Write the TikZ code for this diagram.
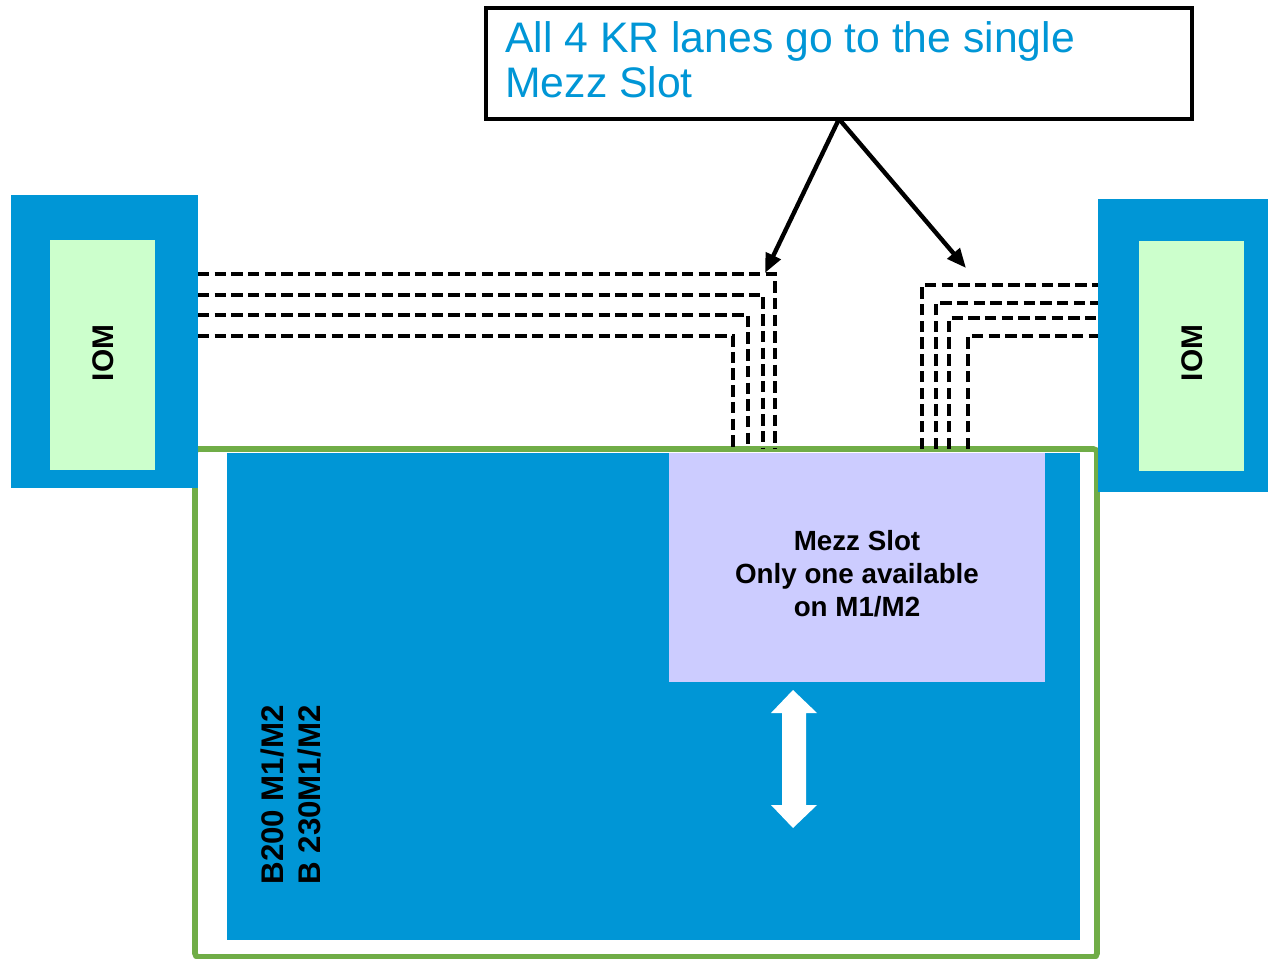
\documentclass[tikz,border=0pt]{standalone}
\usepackage{fontspec}
\setmainfont{Liberation Sans}
\usetikzlibrary{fit,arrows.meta}
\definecolor{dblue}{RGB}{0,150,214}
\definecolor{iomgreen}{RGB}{204,255,204}
\definecolor{mezzfill}{RGB}{204,204,255}
\definecolor{framegreen}{RGB}{112,173,71}
\begin{document}
\begin{tikzpicture}[x=0.02cm,y=-0.02cm,
  area/.style={inner sep=0pt, outer sep=0pt},
  lane/.style={draw=black, line width=2.1pt, dash pattern=on 6.5pt off 3pt},
  callout/.style={draw=black, line width=2.5pt, -{Triangle[length=11pt,width=9pt]}},
  vlabel/.style={font=\bfseries\fontsize{17}{20}\selectfont, rotate=90, inner sep=0pt}
]
\useasboundingbox (0,0) rectangle (1268,959);
% board
\node[area, fit={(195,449) (1097,957)}, draw=framegreen, line width=3.2pt, fill=white, rounded corners=2pt] (board) {};
\node[area, fit={(227,453) (1080,940)}, fill=dblue] (blade) {};
\node[area, fit={(669,453) (1045,682)}, fill=mezzfill] (mezz) {};
\node[font=\bfseries\fontsize{15.8}{18.7}\selectfont, align=center, inner sep=0pt] (mezztext) at (857,574)
  {Mezz Slot\\Only one available\\on M1/M2};
\node[font=\bfseries\fontsize{17.8}{21.5}\selectfont, rotate=90, align=left, inner sep=0pt] (bladetext) at (291,795)
  {B200 M1/M2\\B 230M1/M2};
% double arrow
\fill[white] (793,690) -- (817,713) -- (806,713) -- (806,805) -- (817,805) -- (793,828)
  -- (771,805) -- (782,805) -- (782,713) -- (771,713) -- cycle;
% IOMs
\node[area, fit={(11,195) (198,488)}, fill=dblue] (iomL) {};
\node[area, fit={(50,240) (155,470)}, fill=iomgreen] (iomLin) {};
\node[vlabel] (iomLtext) at (103,353) {IOM};
\node[area, fit={(1098,199) (1268,492)}, fill=dblue] (iomR) {};
\node[area, fit={(1139,241) (1244,471)}, fill=iomgreen] (iomRin) {};
\node[vlabel] (iomRtext) at (1192,353) {IOM};
% lanes left
\draw[lane] (iomL.east |- 0,274) -- (775,274) -- (775,0 |- board.north);
\draw[lane] (iomL.east |- 0,295) -- (763,295) -- (763,0 |- board.north);
\draw[lane] (iomL.east |- 0,315) -- (748,315) -- (748,0 |- board.north);
\draw[lane] (iomL.east |- 0,336) -- (733,336) -- (733,0 |- board.north);
% lanes right
\draw[lane] (922,0 |- board.north) -- (922,285) -- (iomR.west |- 0,285);
\draw[lane] (936,0 |- board.north) -- (936,303) -- (iomR.west |- 0,303);
\draw[lane] (949,0 |- board.north) -- (949,318) -- (iomR.west |- 0,318);
\draw[lane] (968,0 |- board.north) -- (968,336) -- (iomR.west |- 0,336);
% callout
\node[area, fit={(486,8) (1192,119)}, draw=black, line width=2pt, fill=white] (note) {};
\node[anchor=north west, inner sep=0pt, align=left, text=dblue, font=\fontsize{24.3}{26}\selectfont] (notetext) at (505,21)
  {All 4 KR lanes go to the single\\Mezz Slot};
\coordinate (tipA) at (765,273);
\coordinate (tipB) at (966,268);
\draw[callout] (note.south) -- (tipA);
\draw[callout] (note.south) -- (tipB);
\end{tikzpicture}
\end{document}
